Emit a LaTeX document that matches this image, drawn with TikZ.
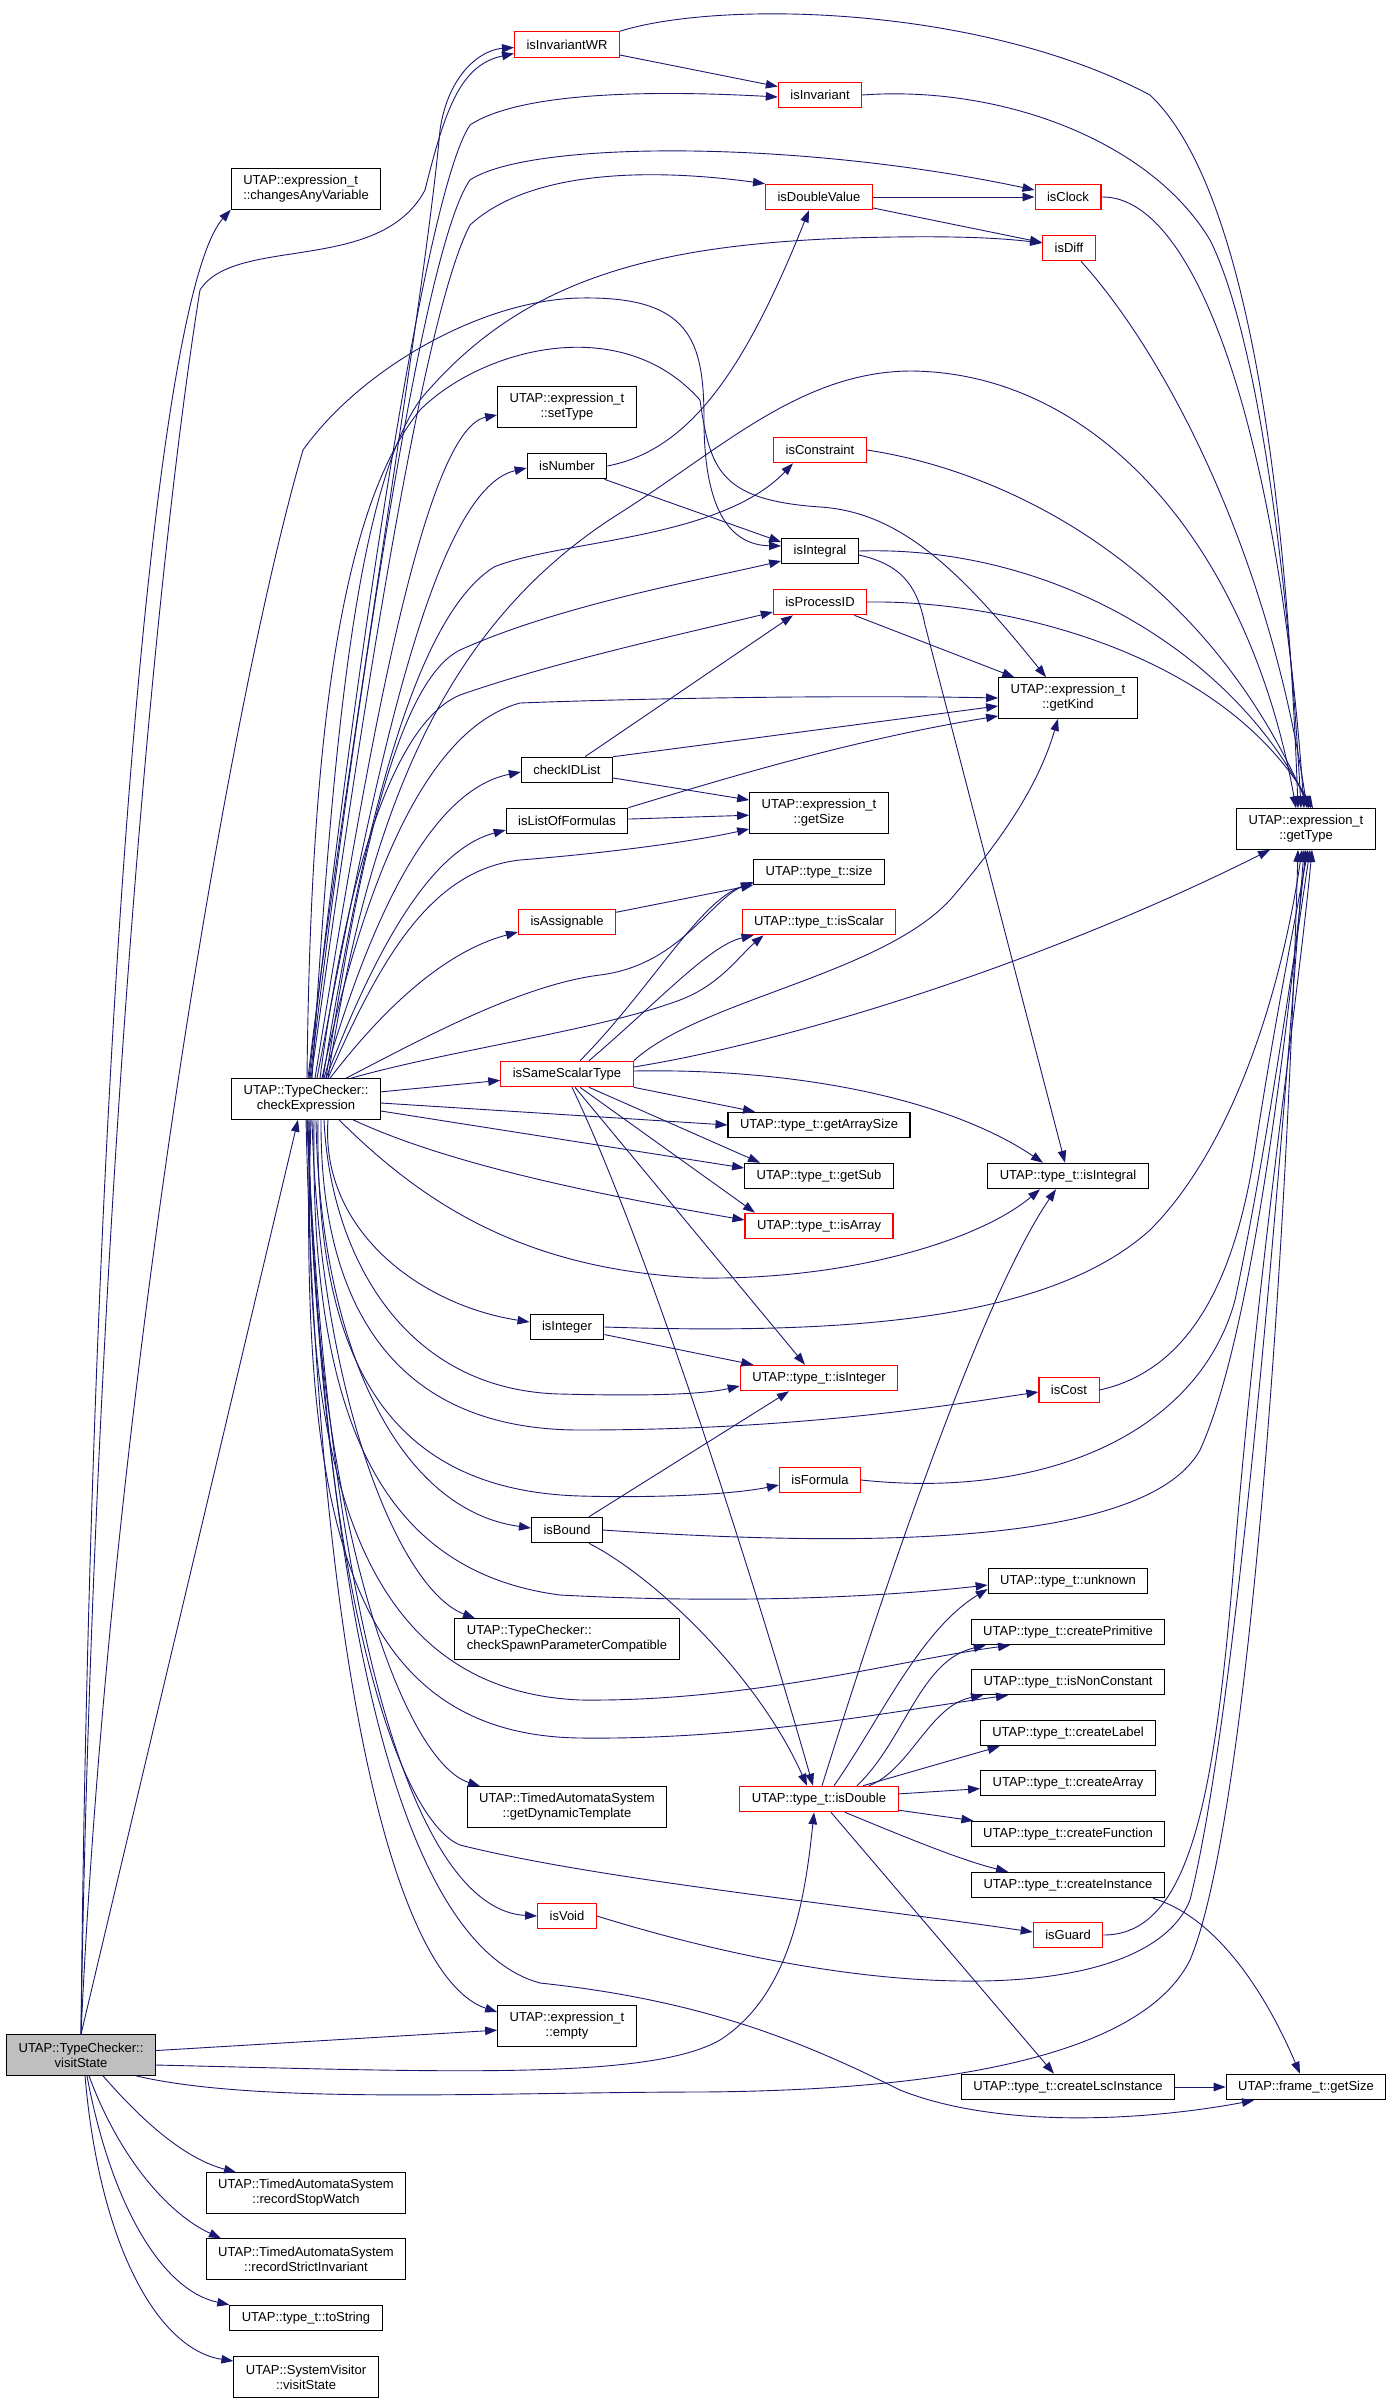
\documentclass[tikz,border=0pt]{standalone}
\usepackage{fontspec}
\setmainfont{Liberation Sans}
\usetikzlibrary{arrows.meta}
\definecolor{navy}{RGB}{25,25,112}
\definecolor{boxgrey}{RGB}{191,191,191}
\tikzset{
  fnode/.style={draw=black, line width=1.1pt, fill=white, font=\fontsize{13}{15}\selectfont,
    inner xsep=12pt, inner ysep=6pt, minimum height=25.5pt, align=center},
  fcut/.style={fnode, draw=red},
  ftall/.style={fnode, minimum height=40.5pt},
  call/.style={->, navy, line width=0.9pt},
}
\begin{document}
\begin{tikzpicture}[x=1pt, y=-1pt, >={Triangle[length=12pt,width=8.5pt]}]
\useasboundingbox (0,0) rectangle (1393,2403);
% callers and first column
\node (Vs) at (81,2055)   [ftall, fill=boxgrey] {UTAP::TypeChecker::\\visitState};
\node (Ca) at (306,189)   [ftall, align=left] {UTAP::expression\_t\\::changesAnyVariable};
\node (Ce) at (306,1099)  [ftall] {UTAP::TypeChecker::\\checkExpression};
\node (Rw) at (306,2193)  [ftall] {UTAP::TimedAutomataSystem\\::recordStopWatch};
\node (Ri) at (306,2259)  [ftall] {UTAP::TimedAutomataSystem\\::recordStrictInvariant};
\node (Ts) at (306,2318)  [fnode] {UTAP::type\_t::toString};
\node (Sv) at (306,2377)  [ftall] {UTAP::SystemVisitor\\::visitState};
% second column
\node (Iw) at (567,44.5)  [fcut] {isInvariantWR};
\node (St) at (567,407)   [ftall] {UTAP::expression\_t\\::setType};
\node (Nu) at (567,466)   [fnode] {isNumber};
\node (Cl) at (567,770)   [fnode] {checkIDList};
\node (Lf) at (567,821)   [fnode] {isListOfFormulas};
\node (As) at (567,922)   [fcut] {isAssignable};
\node (Ss) at (567,1074)  [fcut] {isSameScalarType};
\node (In) at (567,1327)  [fnode] {isInteger};
\node (Bo) at (567,1530)  [fnode] {isBound};
\node (Sp) at (567,1639)  [ftall, align=left] {UTAP::TypeChecker::\\checkSpawnParameterCompatible};
\node (Dt) at (567,1807)  [ftall] {UTAP::TimedAutomataSystem\\::getDynamicTemplate};
\node (Vo) at (567,1916)  [fcut] {isVoid};
\node (Em) at (567,2026)  [ftall] {UTAP::expression\_t\\::empty};
% third column
\node (Iv) at (820,95)    [fcut] {isInvariant};
\node (Dv) at (819,197)   [fcut] {isDoubleValue};
\node (Co) at (820,450)   [fcut] {isConstraint};
\node (Ig) at (820,551)   [fnode] {isIntegral};
\node (Pi) at (820,602)   [fcut] {isProcessID};
\node (Gs) at (819,813)   [ftall] {UTAP::expression\_t\\::getSize};
\node (Sz) at (819,872)   [fnode] {UTAP::type\_t::size};
\node (Sc) at (819,922)   [fcut] {UTAP::type\_t::isScalar};
\node (Ga) at (819,1125)  [fnode] {UTAP::type\_t::getArraySize};
\node (Gb) at (819,1176)  [fnode] {UTAP::type\_t::getSub};
\node (Ar) at (819,1226)  [fcut] {UTAP::type\_t::isArray};
\node (Ti) at (819,1378)  [fcut] {UTAP::type\_t::isInteger};
\node (Fo) at (820,1480)  [fcut] {isFormula};
\node (Db) at (819,1799)  [fcut] {UTAP::type\_t::isDouble};
% fourth column
\node (Ck) at (1068,197)  [fcut] {isClock};
\node (Df) at (1069,248)  [fcut] {isDiff};
\node (Gk) at (1068,698)  [ftall] {UTAP::expression\_t\\::getKind};
\node (Tl) at (1068,1176) [fnode] {UTAP::type\_t::isIntegral};
\node (Cs) at (1069,1390) [fcut] {isCost};
\node (Un) at (1068,1581) [fnode] {UTAP::type\_t::unknown};
\node (Cp) at (1068,1632) [fnode] {UTAP::type\_t::createPrimitive};
\node (Nc) at (1068,1682) [fnode] {UTAP::type\_t::isNonConstant};
\node (Cb) at (1068,1733) [fnode] {UTAP::type\_t::createLabel};
\node (Cy) at (1068,1783) [fnode] {UTAP::type\_t::createArray};
\node (Cf) at (1068,1834) [fnode] {UTAP::type\_t::createFunction};
\node (Ci) at (1068,1885) [fnode] {UTAP::type\_t::createInstance};
\node (Gu) at (1068,1935) [fcut] {isGuard};
\node (Li) at (1068,2087) [fnode] {UTAP::type\_t::createLscInstance};
% last column
\node (Gt) at (1306,829)  [ftall] {UTAP::expression\_t\\::getType};
\node (Fs) at (1306,2087) [fnode] {UTAP::frame\_t::getSize};

% visitState
\draw[call] (Vs.north) .. controls (90,1100) and (150,300) .. (Ca.south west);
\draw[call] (Vs.north) .. controls (92,1300) and (150,600) .. (200,290) .. controls (235,235) and (380,275) .. (425,190) .. controls (445,110) and (460,65) .. ([yshift=-9pt]Iw.west);
\draw[call] (Vs.north) .. controls (110,1400) and (230,700) .. (303,450) .. controls (360,370) and (480,300) .. (580,298) .. controls (690,296) and (704,340) .. (704,420) .. controls (704,510) and (730,545) .. ([yshift=5pt]Ig.west);
\draw[call] (Vs.north) -- ([xshift=-8pt]Ce.south);
\draw[call] (Vs) -- (Em);
\draw[call] ([yshift=-10pt]Vs.east) .. controls (450,2072) and (650,2080) .. (720,2040) .. controls (790,1995) and (805,1900) .. ([xshift=-5pt]Db.south);
\draw[call] ([xshift=-20pt]Vs.south east) .. controls (260,2105) and (500,2092) .. (700,2092) .. controls (1000,2090) and (1150,2040) .. (1190,1960) .. controls (1245,1830) and (1285,1300) .. ([xshift=-8pt]Gt.south);
\draw[call] ([xshift=22pt]Vs.south) .. controls (150,2130) and (190,2160) .. ([xshift=-70pt]Rw.north);
\draw[call] ([xshift=8pt]Vs.south) .. controls (120,2160) and (170,2215) .. ([xshift=-85pt]Ri.north);
\draw[call] ([xshift=6pt]Vs.south) .. controls (110,2200) and (160,2290) .. (Ts.north west);
\draw[call] ([xshift=4pt]Vs.south) .. controls (100,2250) and (160,2350) .. ([yshift=16pt]Sv.west);

% checkExpression, upwards
\draw[call] ([xshift=2pt]Ce.north) .. controls (340,800) and (425,300) .. (440,130) .. controls (448,75) and (480,50) .. ([yshift=-3pt]Iw.west);
\draw[call] ([xshift=3pt]Ce.north) .. controls (345,750) and (420,200) .. (470,125) .. controls (520,92) and (650,90) .. ([yshift=-2pt]Iv.west);
\draw[call] ([xshift=4pt]Ce.north) .. controls (350,750) and (420,250) .. (470,180) .. controls (530,140) and (800,140) .. ([yshift=7pt]Ck.west);
\draw[call] ([xshift=5pt]Ce.north) .. controls (355,760) and (420,320) .. (470,225) .. controls (530,170) and (650,168) .. (Dv.north west);
\draw[call] ([xshift=6pt]Ce.north) .. controls (330,800) and (350,500) .. (420,400) .. controls (520,280) and (650,245) .. (850,238) .. controls (950,235) and (1000,238) .. ([yshift=5pt]Df.west);
\draw[call] ([xshift=9pt]Ce.north) .. controls (360,800) and (420,430) .. ([yshift=-8pt]St.west);
\draw[call] ([xshift=11pt]Ce.north) .. controls (370,800) and (430,490) .. ([yshift=-2pt]Nu.west);
\draw[call] ([xshift=1pt]Ce.north) .. controls (310,800) and (330,520) .. (420,410) .. controls (480,350) and (620,310) .. (700,400) .. controls (710,470) and (720,500) .. (820,507) .. controls (900,512) and (960,570) .. ([xshift=-22pt]Gk.north);
\draw[call] ([xshift=22pt]Ce.north) .. controls (370,800) and (450,620) .. (620,513) .. controls (720,450) and (800,372) .. (910,371) .. controls (1100,372) and (1250,550) .. ([xshift=-10pt]Gt.north);
\draw[call] ([xshift=17pt]Ce.north) .. controls (360,850) and (410,620) .. (494,567) .. controls (560,540) and (720,540) .. ([xshift=-27pt]Co.south);
\draw[call] ([xshift=20pt]Ce.north) .. controls (360,850) and (400,680) .. (460,650) .. controls (560,605) and (700,580) .. ([yshift=-10pt]Ig.west);
\draw[call] ([xshift=14pt]Ce.north) .. controls (350,850) and (400,720) .. (460,695) .. controls (560,660) and (700,630) .. ([yshift=-10pt]Pi.west);
\draw[call] ([xshift=16pt]Ce.north) .. controls (360,900) and (420,730) .. (520,703) .. controls (650,698) and (850,695) .. (Gk.west);
\draw[call] ([xshift=18pt]Ce.north) .. controls (370,920) and (430,790) .. ([yshift=-2pt]Cl.west);
\draw[call] ([xshift=20pt]Ce.north) .. controls (375,950) and (430,850) .. ([yshift=-9pt]Lf.west);
\draw[call] ([xshift=22pt]Ce.north) .. controls (380,960) and (430,870) .. (520,860) .. controls (620,852) and (700,840) .. ([yshift=-16pt]Gs.west);
\draw[call] ([xshift=24pt]Ce.north) .. controls (390,1000) and (450,950) .. ([yshift=-10pt]As.west);
\draw[call] ([xshift=40pt]Ce.north) .. controls (420,1040) and (520,985) .. (600,975) .. controls (680,965) and (710,900) .. ([yshift=-10pt]Sz.west);
\draw[call] ([xshift=45pt]Ce.north) .. controls (450,1050) and (600,1030) .. (680,1000) .. controls (720,985) and (740,955) .. ([xshift=22pt]Sc.south west);
% checkExpression, sideways and downwards
\draw[call] (Ce) -- (Ss);
\draw[call] ([yshift=-4pt]Ce.east) -- (Ga.west);
\draw[call] ([yshift=-12pt]Ce.east) -- ([yshift=8pt]Gb.west);
\draw[call] ([xshift=47pt]Ce.south) .. controls (450,1165) and (600,1195) .. ([yshift=6pt]Ar.west);
\draw[call] ([xshift=33pt]Ce.south) .. controls (420,1200) and (520,1270) .. (700,1278) .. controls (850,1280) and (980,1240) .. ([xshift=-28pt]Tl.south);
\draw[call] ([xshift=22pt]Ce.south) .. controls (320,1230) and (420,1305) .. ([yshift=5pt]In.west);
\draw[call] ([xshift=18pt]Ce.south) .. controls (330,1250) and (400,1390) .. (560,1394) .. controls (640,1396) and (700,1395) .. ([yshift=-8pt]Ti.west);
\draw[call] ([xshift=15pt]Ce.south) .. controls (320,1300) and (390,1430) .. (580,1430) .. controls (800,1430) and (950,1405) .. ([yshift=-2pt]Cs.west);
\draw[call] ([xshift=12pt]Ce.south) .. controls (315,1350) and (380,1490) .. (580,1496) .. controls (650,1498) and (730,1495) .. ([yshift=-5pt]Fo.west);
\draw[call] ([xshift=10pt]Ce.south) .. controls (320,1350) and (400,1510) .. ([yshift=2pt]Bo.west);
\draw[call] ([xshift=8pt]Ce.south) .. controls (310,1400) and (370,1570) .. (560,1595) .. controls (750,1605) and (900,1595) .. ([yshift=-4pt]Un.west);
\draw[call] ([xshift=6pt]Ce.south) .. controls (320,1400) and (400,1590) .. ([xshift=-92pt]Sp.north);
\draw[call] ([xshift=5pt]Ce.south) .. controls (300,1450) and (350,1690) .. (580,1700) .. controls (750,1702) and (900,1660) .. ([xshift=-58pt]Cp.south);
\draw[call] ([xshift=4pt]Ce.south) .. controls (300,1500) and (340,1735) .. (580,1738) .. controls (750,1740) and (900,1710) .. ([xshift=-60pt]Nc.south);
\draw[call] ([xshift=3pt]Ce.south) .. controls (310,1500) and (400,1760) .. ([xshift=-87pt]Dt.north);
\draw[call] ([xshift=2pt]Ce.south) .. controls (320,1600) and (400,1820) .. (460,1845) .. controls (600,1880) and (850,1905) .. ([yshift=3pt]Gu.west);
\draw[call] ([xshift=1pt]Ce.south) .. controls (330,1650) and (420,1910) .. (Vo.west);
\draw[call] (Ce.south) .. controls (320,1700) and (400,1980) .. ([yshift=14pt]Em.west);
\draw[call] ([xshift=1pt]Ce.south) .. controls (330,1700) and (420,1950) .. (540,1983) .. controls (700,2000) and (800,2040) .. (900,2090) .. controls (1000,2130) and (1150,2120) .. ([xshift=-52pt]Fs.south);

% second column callees
\draw[call] (Iw) -- (Iv);
\draw[call] (Iw.north east) .. controls (720,0) and (980,5) .. (1150,95) .. controls (1240,180) and (1285,450) .. ([xshift=-8pt]Gt.north);
\draw[call] (Nu.east) .. controls (690,450) and (745,370) .. ([xshift=-10pt]Dv.south);
\draw[call] (Nu) -- ([yshift=9pt]Ig.west);
\draw[call] ([xshift=18pt]Cl.north) -- ([xshift=-27pt]Pi.south);
\draw[call] (Cl.north east) -- ([yshift=-8pt]Gk.west);
\draw[call] ([yshift=-8pt]Cl.east) -- ([yshift=13pt]Gs.west);
\draw[call] (Lf.north east) .. controls (720,780) and (850,740) .. ([yshift=-18pt]Gk.west);
\draw[call] (Lf) -- (Gs);
\draw[call] (As) -- (Sz);
\draw[call] ([xshift=13pt]Ss.north) .. controls (650,990) and (700,900) .. ([yshift=-11pt]Sz.west);
\draw[call] ([xshift=22pt]Ss.north) .. controls (660,1000) and (710,945) .. ([xshift=12pt]Sc.south west);
\draw[call] (Ss.north east) .. controls (700,1000) and (880,975) .. (950,900) .. controls (1010,830) and (1040,780) .. ([xshift=-10pt]Gk.south);
\draw[call] ([yshift=7pt]Ss.east) .. controls (800,1040) and (1050,960) .. ([xshift=-36pt]Gt.south);
\draw[call] ([yshift=3pt]Ss.east) .. controls (800,1068) and (950,1100) .. ([xshift=-25pt]Tl.north);
\draw[call] (Ss.south east) -- ([xshift=-64pt]Ga.north);
\draw[call] ([xshift=22pt]Ss.south) -- ([xshift=-59pt]Gb.north);
\draw[call] ([xshift=13pt]Ss.south) -- ([xshift=-64pt]Ar.north);
\draw[call] ([xshift=8pt]Ss.south) -- ([xshift=-14pt]Ti.north);
\draw[call] ([xshift=5pt]Ss.south) .. controls (650,1250) and (760,1600) .. ([xshift=-6pt]Db.north);
\draw[call] (In) -- (Ti);
\draw[call] (In.east) .. controls (850,1335) and (1050,1320) .. (1150,1230) .. controls (1230,1150) and (1280,1000) .. ([xshift=-4pt]Gt.south);
\draw[call] ([xshift=22pt]Bo.north) -- ([xshift=-30pt]Ti.south);
\draw[call] (Bo.east) .. controls (900,1550) and (1150,1540) .. (1200,1450) .. controls (1255,1330) and (1290,1000) .. (Gt.south);
\draw[call] ([xshift=22pt]Bo.south) .. controls (660,1580) and (760,1680) .. ([xshift=-12pt]Db.north);
\draw[call] (Vo.east) .. controls (900,2010) and (1150,2000) .. (1190,1900) .. controls (1240,1700) and (1285,1100) .. ([xshift=-2pt]Gt.south);

% third column callees
\draw[call] (Iv.east) .. controls (1000,85) and (1150,140) .. (1210,240) .. controls (1260,340) and (1290,600) .. ([xshift=-5pt]Gt.north);
\draw[call] (Dv) -- (Ck);
\draw[call] (Dv) -- (Df);
\draw[call] (Co.east) .. controls (1000,470) and (1200,560) .. ([xshift=3pt]Gt.north);
\draw[call] (Ig.east) .. controls (1050,545) and (1230,650) .. ([xshift=5pt]Gt.north);
\draw[call] ([yshift=-4pt]Ig.east) .. controls (905,565) and (918,590) .. (925,625) -- ([xshift=-3pt]Tl.north);
\draw[call] (Pi) -- (Gk);
\draw[call] (Pi.east) .. controls (1000,600) and (1220,650) .. ([xshift=7pt]Gt.north);
\draw[call] (Fo.east) .. controls (1050,1500) and (1200,1430) .. (1235,1300) .. controls (1265,1160) and (1295,950) .. ([xshift=4pt]Gt.south);
\draw[call] ([xshift=3pt]Db.north) .. controls (880,1600) and (980,1300) .. ([xshift=-12pt]Tl.south);
\draw[call] ([xshift=15pt]Db.north) .. controls (880,1720) and (920,1630) .. ([yshift=-8pt]Un.west);
\draw[call] ([xshift=38pt]Db.north) .. controls (905,1740) and (920,1660) .. ([xshift=15pt]Cp.south west);
\draw[call] ([xshift=50pt]Db.north) .. controls (910,1770) and (930,1705) .. ([xshift=12pt]Nc.south west);
\draw[call] ([xshift=44pt]Db.north) -- ([xshift=20pt]Cb.south west);
\draw[call] (Db) -- (Cy);
\draw[call] (Db) -- (Cf);
\draw[call] ([xshift=26pt]Db.south) .. controls (900,1835) and (960,1860) .. ([xshift=-60pt]Ci.north);
\draw[call] ([xshift=12pt]Db.south) -- ([xshift=-14pt]Li.north);

% fourth column callees
\draw[call] (Ck.east) .. controls (1200,195) and (1280,450) .. ([xshift=-2pt]Gt.north);
\draw[call] ([xshift=12pt]Df.south) .. controls (1170,360) and (1270,560) .. ([xshift=1pt]Gt.north);
\draw[call] (Cs.east) .. controls (1190,1370) and (1235,1280) .. (1255,1150) .. controls (1275,1020) and (1295,920) .. ([xshift=2pt]Gt.south);
\draw[call] (Gu.east) .. controls (1190,1935) and (1215,1800) .. (1235,1550) .. controls (1260,1250) and (1298,1000) .. ([xshift=6pt]Gt.south);
\draw[call] ([xshift=85pt]Ci.south) .. controls (1210,1915) and (1260,1980) .. ([xshift=-6pt]Fs.north);
\draw[call] (Li) -- (Fs);
\end{tikzpicture}
\end{document}
